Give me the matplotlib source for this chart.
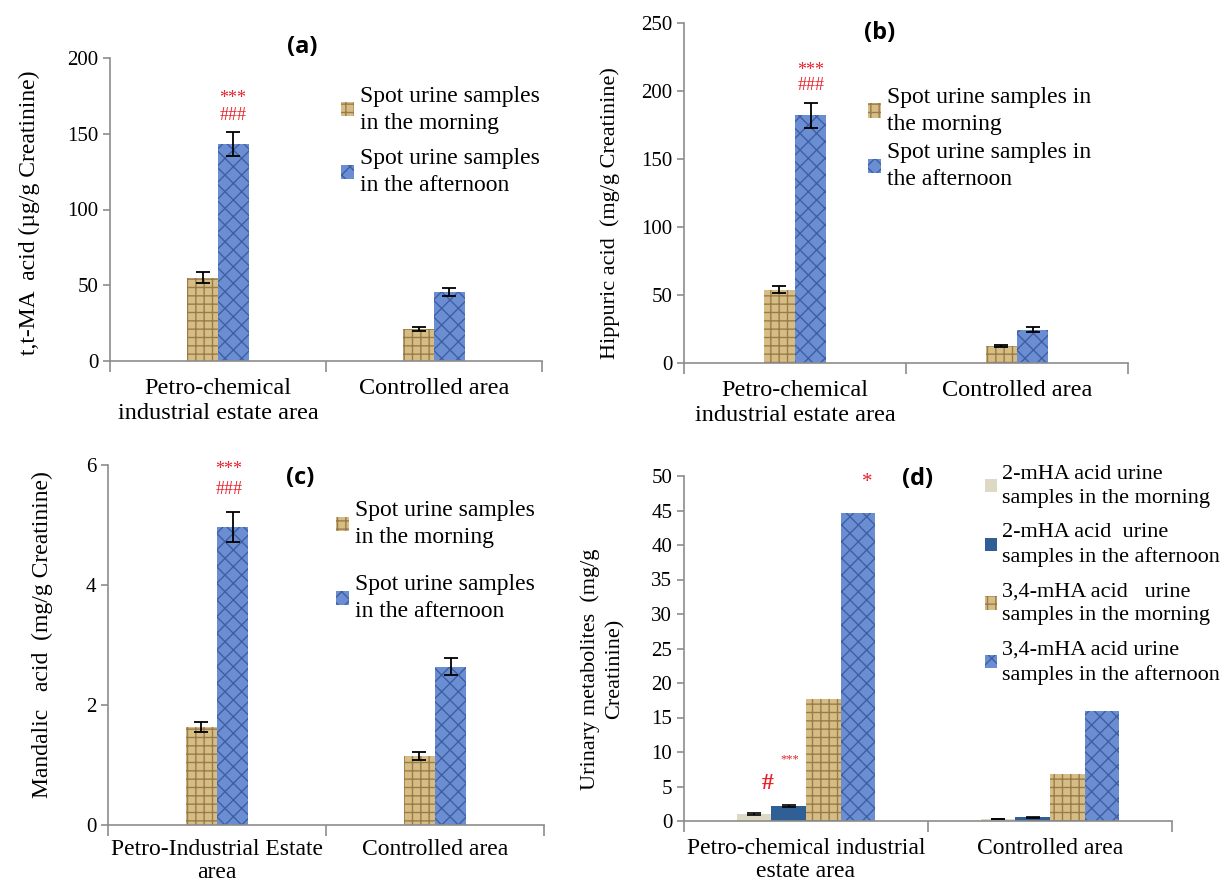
import numpy as np
import matplotlib
matplotlib.use('Agg')
import matplotlib.pyplot as plt
from matplotlib.patches import Patch

plt.rcParams['font.family'] = ['Liberation Serif', 'DejaVu Serif']
plt.rcParams['hatch.linewidth'] = 1.0

# ---- data ----
groups_ab = ['Petro-chemical\nindustrial estate area', 'Controlled area']
groups_c = ['Petro-Industrial Estate\narea', 'Controlled area']
groups_d = ['Petro-chemical industrial\nestate area', 'Controlled area']

# (a) t,t-MA acid
ttma_morning = [55, 21]
ttma_morning_err = [3.5, 1.5]
ttma_afternoon = [143, 45.5]
ttma_afternoon_err = [8, 2.5]

# (b) Hippuric acid
hip_morning = [54, 12.5]
hip_morning_err = [2.5, 0.8]
hip_afternoon = [182, 24.5]
hip_afternoon_err = [9, 2]

# (c) Mandelic acid
man_morning = [1.63, 1.15]
man_morning_err = [0.08, 0.07]
man_afternoon = [4.97, 2.64]
man_afternoon_err = [0.25, 0.14]

# (d) methyl hippuric acids
mha2_morning = [1.0, 0.3]
mha2_morning_err = [0.1, 0.05]
mha2_afternoon = [2.2, 0.55]
mha2_afternoon_err = [0.12, 0.08]
mha34_morning = [17.7, 6.8]
mha34_afternoon = [44.6, 16.0]

labels_a = ['Spot urine samples\nin the morning', 'Spot urine samples\nin the afternoon']
labels_b = ['Spot urine samples in\nthe morning', 'Spot urine samples in\nthe afternoon']
labels_d = ['2-mHA acid urine\nsamples in the morning',
            '2-mHA acid  urine\nsamples in the afternoon',
            '3,4-mHA acid   urine\nsamples in the morning',
            '3,4-mHA acid urine\nsamples in the afternoon']

# ---- styles ----
TAN = '#d6bd86'
TAN_H = '#9a7c48'
BLUE = '#6b8ed3'
BLUE_H = '#3f5fa4'
BEIGE = '#ddd9c4'
NAVY = '#2f5f95'
AXC = '#8c8c8c'
RED = '#e8202a'

fig = plt.figure(figsize=(12.25, 8.86), dpi=100)


def px_axes(l, r, b, t):
    W, H = 1225.0, 886.0
    return fig.add_axes([l / W, 1 - b / H, (r - l) / W, (b - t) / H])


def style(ax, ymax, step, xlabels, tick_fs=15, pad=12, xfs=17.5, lsp=1.3):
    ax.set_xlim(-0.5, 1.5)
    ax.set_ylim(0, ymax)
    ax.set_yticks(np.arange(0, ymax + step / 2, step))
    ax.set_xticks([0, 1])
    ax.set_xticklabels(xlabels, fontsize=xfs, linespacing=lsp)
    ax.set_xticks([-0.5, 0.5, 1.5], minor=True)
    ax.tick_params(axis='x', which='major', length=0, pad=pad)
    ax.tick_params(axis='x', which='minor', length=8, color=AXC, width=1.2)
    ax.tick_params(axis='y', length=5, color=AXC, width=1.2, labelsize=tick_fs)
    for s in ['top', 'right']:
        ax.spines[s].set_visible(False)
    for s in ['left', 'bottom']:
        ax.spines[s].set_color(AXC)
        ax.spines[s].set_linewidth(1.2)


def two_bars(ax, m, me, a, ae, w):
    x = np.arange(2)
    ax.bar(x - w / 2, m, w, color=TAN, edgecolor=TAN_H, hatch='++', linewidth=0)
    ax.bar(x + w / 2, a, w, color=BLUE, edgecolor=BLUE_H, hatch='xx', linewidth=0)
    ax.errorbar(x - w / 2, m, yerr=me, fmt='none', ecolor='black', elinewidth=1.3, capsize=5, capthick=1.3)
    ax.errorbar(x + w / 2, a, yerr=ae, fmt='none', ecolor='black', elinewidth=1.3, capsize=5, capthick=1.3)


def legend_handles():
    return [Patch(facecolor=TAN, edgecolor=TAN_H, hatch='++', linewidth=0),
            Patch(facecolor=BLUE, edgecolor=BLUE_H, hatch='xx', linewidth=0)]


def put_legend(ax, handles, labels, anchor, fs, spacing):
    leg = ax.legend(handles, labels, loc='upper left', bbox_to_anchor=anchor,
                    frameon=False, fontsize=fs, handlelength=0.55, handleheight=0.55,
                    handletextpad=0.25, labelspacing=spacing, borderaxespad=0)
    for t in leg.get_texts():
        t.set_linespacing(1.38)
    return leg


# ---- (a) ----
ax = px_axes(110, 542, 361, 58)
two_bars(ax, ttma_morning, ttma_morning_err, ttma_afternoon, ttma_afternoon_err, 0.1435)
style(ax, 200, 50, groups_ab)
ax.set_ylabel('t,t-MA  acid (\u00b5g/g Creatinine)', fontsize=17)
ax.yaxis.set_label_coords(-0.162, 0.49)
ax.text(0.445, 1.035, '(a)', transform=ax.transAxes, ha='center', va='center',
        fontsize=17, fontweight='bold', family='Open Sans')
ax.text(0.068, 173, '***', color=RED, ha='center', va='center', fontsize=13)
ax.text(0.068, 162, '###', color=RED, ha='center', va='center', fontsize=13)
put_legend(ax, legend_handles(), labels_a, (0.512, 0.94), 17, 0.62)

# ---- (b) ----
ax = px_axes(684, 1128, 363, 23)
two_bars(ax, hip_morning, hip_morning_err, hip_afternoon, hip_afternoon_err, 0.14)
style(ax, 250, 50, groups_ab)
ax.set_ylabel('Hippuric acid  (mg/g Creatinine)', fontsize=16)
ax.yaxis.set_label_coords(-0.145, 0.44)
ax.text(0.44, 0.97, '(b)', transform=ax.transAxes, ha='center', va='center',
        fontsize=17, fontweight='bold', family='Open Sans')
ax.text(0.072, 215, '***', color=RED, ha='center', va='center', fontsize=13)
ax.text(0.072, 204, '###', color=RED, ha='center', va='center', fontsize=13)
put_legend(ax, legend_handles(), labels_b, (0.394, 0.84), 17, 0.3)

# ---- (c) ----
ax = px_axes(108, 544, 825, 465)
two_bars(ax, man_morning, man_morning_err, man_afternoon, man_afternoon_err, 0.1435)
style(ax, 6, 2, groups_c, pad=10, xfs=17, lsp=1.12)
ax.set_ylabel('Mandalic   acid  (mg/g Creatinine)', fontsize=17)
ax.yaxis.set_label_coords(-0.125, 0.53)
ax.text(0.44, 0.963, '(c)', transform=ax.transAxes, ha='center', va='center',
        fontsize=17, fontweight='bold', family='Open Sans')
ax.text(0.055, 5.93, '***', color=RED, ha='center', va='center', fontsize=13)
ax.text(0.055, 5.6, '###', color=RED, ha='center', va='center', fontsize=13)
put_legend(ax, legend_handles(), labels_a, (0.502, 0.928), 17, 1.08)

# ---- (d) ----
ax = px_axes(684, 1172, 821, 476)
w = 0.1415
x = np.arange(2)
ax.bar(x - 1.5 * w, mha2_morning, w, color=BEIGE, linewidth=0)
ax.bar(x - 0.5 * w, mha2_afternoon, w, color=NAVY, linewidth=0)
ax.bar(x + 0.5 * w, mha34_morning, w, color=TAN, edgecolor=TAN_H, hatch='++', linewidth=0)
ax.bar(x + 1.5 * w, mha34_afternoon, w, color=BLUE, edgecolor=BLUE_H, hatch='xx', linewidth=0)
ax.errorbar(x - 1.5 * w, mha2_morning, yerr=mha2_morning_err, fmt='none', ecolor='black',
            elinewidth=1.2, capsize=5, capthick=1.2)
ax.errorbar(x - 0.5 * w, mha2_afternoon, yerr=mha2_afternoon_err, fmt='none', ecolor='black',
            elinewidth=1.2, capsize=5, capthick=1.2)
style(ax, 50, 5, groups_d, tick_fs=15, pad=12, xfs=17, lsp=1.12)
ax.set_ylabel('Urinary metabolites  (mg/g\nCreatinine)', fontsize=16, linespacing=1.4)
ax.yaxis.set_label_coords(-0.122, 0.44)
ax.text(0.478, 0.992, '(d)', transform=ax.transAxes, ha='center', va='center',
        fontsize=17, fontweight='bold', family='Open Sans')
ax.text(-0.156, 5.4, '#', color=RED, ha='center', va='center', fontsize=17, fontweight='bold')
ax.text(-0.066, 8.9, '***', color=RED, ha='center', va='center', fontsize=9)
ax.text(0.25, 49.0, '*', color=RED, ha='center', va='center', fontsize=15)
hd = [Patch(facecolor=BEIGE, linewidth=0), Patch(facecolor=NAVY, linewidth=0)] + legend_handles()
put_legend(ax, hd, labels_d, (0.598, 1.058), 16, 0.66)

fig.savefig('out.png', dpi=100)
